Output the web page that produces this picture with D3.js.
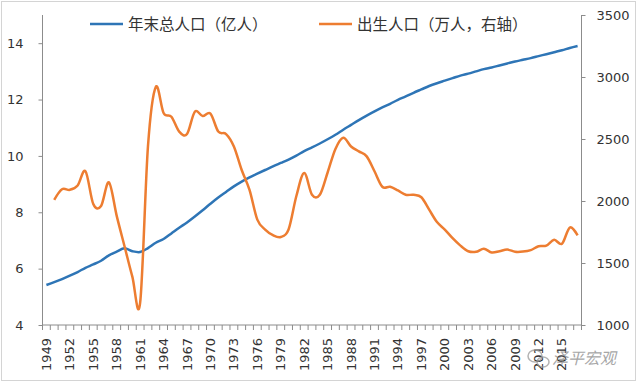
<!DOCTYPE html>
<html>
<head>
<meta charset="utf-8">
<script src="https://cdn.jsdelivr.net/npm/d3@7"></script>
<style>
  body { margin: 0; background: #fff; }
  svg { display: block; }
</style>
</head>
<body>
<svg id="chart" width="640" height="385"></svg>
<script>
// 年份 1949-2017
const years = d3.range(1949, 2018);

// 年末总人口（亿人）
const population = [
  5.42, 5.52, 5.63, 5.75, 5.88, 6.03, 6.15, 6.28, 6.47, 6.60,
  6.72, 6.62, 6.59, 6.73, 6.92, 7.05, 7.25, 7.45, 7.64, 7.85,
  8.07, 8.30, 8.52, 8.72, 8.92, 9.09, 9.24, 9.37, 9.50, 9.63,
  9.75, 9.87, 10.01, 10.17, 10.30, 10.44, 10.59, 10.75, 10.93, 11.10,
  11.27, 11.43, 11.58, 11.72, 11.85, 11.99, 12.11, 12.24, 12.36, 12.48,
  12.58, 12.67, 12.76, 12.85, 12.92, 13.00, 13.08, 13.14, 13.21, 13.28,
  13.35, 13.41, 13.47, 13.54, 13.61, 13.68, 13.75, 13.83, 13.90
];

// 出生人口（万人，右轴），1949 无数据
const births = [
  null, 2010, 2095, 2090, 2125, 2240, 1975, 1960, 2150, 1880,
  1635, 1390, 1180, 2440, 2920, 2710, 2680, 2560, 2540, 2720,
  2685, 2705, 2560, 2540, 2440, 2250, 2090, 1850, 1770, 1725,
  1710, 1770, 2040, 2225, 2050, 2050, 2230, 2420, 2510, 2440,
  2400, 2360, 2240, 2115, 2115, 2085, 2050, 2050, 2030, 1930,
  1830, 1770, 1700, 1640, 1595, 1590, 1615, 1585, 1595, 1608,
  1591, 1592, 1604, 1635, 1640, 1687, 1655, 1786, 1723
];

const leftTicks = [4, 6, 8, 10, 12, 14];
const rightTicks = [1000, 1500, 2000, 2500, 3000, 3500];
const legendLabels = ["年末总人口（亿人）", "出生人口（万人，右轴）"];

const blue = "#2E75B6", orange = "#ED7D31";
const axisColor = "#8c8c8c", textColor = "#333";
const numFont = "DejaVu Sans, sans-serif";
const cjkFont = "'Noto Sans CJK SC', sans-serif";

const svg = d3.select("#chart");
const plot = {left: 42.5, right: 581.5, top: 15, bottom: 325};

// chart border
svg.append("rect")
    .attr("x", 1.5).attr("y", 1.5)
    .attr("width", 634).attr("height", 379)
    .attr("fill", "none").attr("stroke", "#d4d4d4");

const x = d3.scaleBand().domain(years).range([plot.left, plot.right]).padding(0);
const yL = d3.scaleLinear().domain([4, 15]).range([plot.bottom, plot.top]);
const yR = d3.scaleLinear().domain([1000, 3500]).range([plot.bottom, plot.top]);
const cx = d => x(d) + x.bandwidth() / 2;

// left axis
const gL = svg.append("g").attr("transform", `translate(${plot.left},0)`)
    .call(d3.axisLeft(yL).tickValues(leftTicks).tickSize(4).tickPadding(15));
gL.select(".domain").attr("stroke", axisColor).attr("d", `M-0,${plot.top}V${plot.bottom}`);
gL.selectAll(".tick line").attr("stroke", axisColor);
gL.selectAll(".tick text").attr("fill", textColor).attr("font-family", numFont).attr("font-size", 13);

// right axis
const gR = svg.append("g").attr("transform", `translate(${plot.right},0)`)
    .call(d3.axisRight(yR).tickValues(rightTicks).tickFormat(d3.format("d")).tickSize(4).tickPadding(11));
gR.select(".domain").attr("stroke", axisColor).attr("d", `M0,${plot.top}V${plot.bottom}`);
gR.selectAll(".tick line").attr("stroke", axisColor);
gR.selectAll(".tick text").attr("fill", textColor).attr("font-family", numFont).attr("font-size", 13);

// bottom axis: ticks between categories, labels every 3 years
const gB = svg.append("g").attr("transform", `translate(0,${plot.bottom})`);
gB.append("line").attr("x1", plot.left).attr("x2", plot.right)
    .attr("stroke", axisColor);
gB.selectAll("line.tk").data(years.concat([2018])).join("line")
    .attr("class", "tk")
    .attr("x1", d => d === 2018 ? plot.right : x(d))
    .attr("x2", d => d === 2018 ? plot.right : x(d))
    .attr("y1", 0).attr("y2", 5)
    .attr("stroke", axisColor);
gB.selectAll("text").data(years.filter(d => (d - 1949) % 3 === 0)).join("text")
    .attr("transform", d => `translate(${cx(d) + 4.5},13) rotate(-90)`)
    .attr("text-anchor", "end")
    .attr("fill", textColor)
    .attr("font-family", numFont).attr("font-size", 13)
    .text(d => d);

// lines
const popLine = d3.line()
    .x((d, i) => cx(years[i]))
    .y(d => yL(d))
    .curve(d3.curveCatmullRom.alpha(0));
const birthLine = d3.line()
    .defined(d => d !== null)
    .x((d, i) => cx(years[i]))
    .y(d => yR(d))
    .curve(d3.curveCatmullRom.alpha(0));

svg.append("path").datum(population)
    .attr("d", popLine)
    .attr("fill", "none").attr("stroke", blue).attr("stroke-width", 2.5)
    .attr("stroke-linejoin", "round");
svg.append("path").datum(births)
    .attr("d", birthLine)
    .attr("fill", "none").attr("stroke", orange).attr("stroke-width", 2.5)
    .attr("stroke-linejoin", "round");

// legend
const legend = svg.append("g");
[[90, blue], [319, orange]].forEach(([lx, c], i) => {
    legend.append("line").attr("x1", lx).attr("x2", lx + 33)
        .attr("y1", 24).attr("y2", 24)
        .attr("stroke", c).attr("stroke-width", 2.5);
    legend.append("text").attr("x", lx + 38).attr("y", 29.5)
        .attr("fill", textColor)
        .attr("font-family", cjkFont).attr("font-size", 15.5)
        .text(legendLabels[i]);
});

// watermark
const wm = svg.append("g").attr("opacity", 0.75);
wm.append("ellipse").attr("cx", 535).attr("cy", 356).attr("rx", 7).attr("ry", 6)
    .attr("fill", "none").attr("stroke", "#9a9a9a").attr("stroke-width", 1.5);
wm.append("ellipse").attr("cx", 543).attr("cy", 362).attr("rx", 6).attr("ry", 5)
    .attr("fill", "none").attr("stroke", "#9a9a9a").attr("stroke-width", 1.5);
wm.append("text").attr("x", 552).attr("y", 364)
    .attr("fill", "#8a8a8a")
    .attr("font-family", cjkFont).attr("font-size", 16).attr("font-style", "italic")
    .text("泽平宏观");
</script>
</body>
</html>
